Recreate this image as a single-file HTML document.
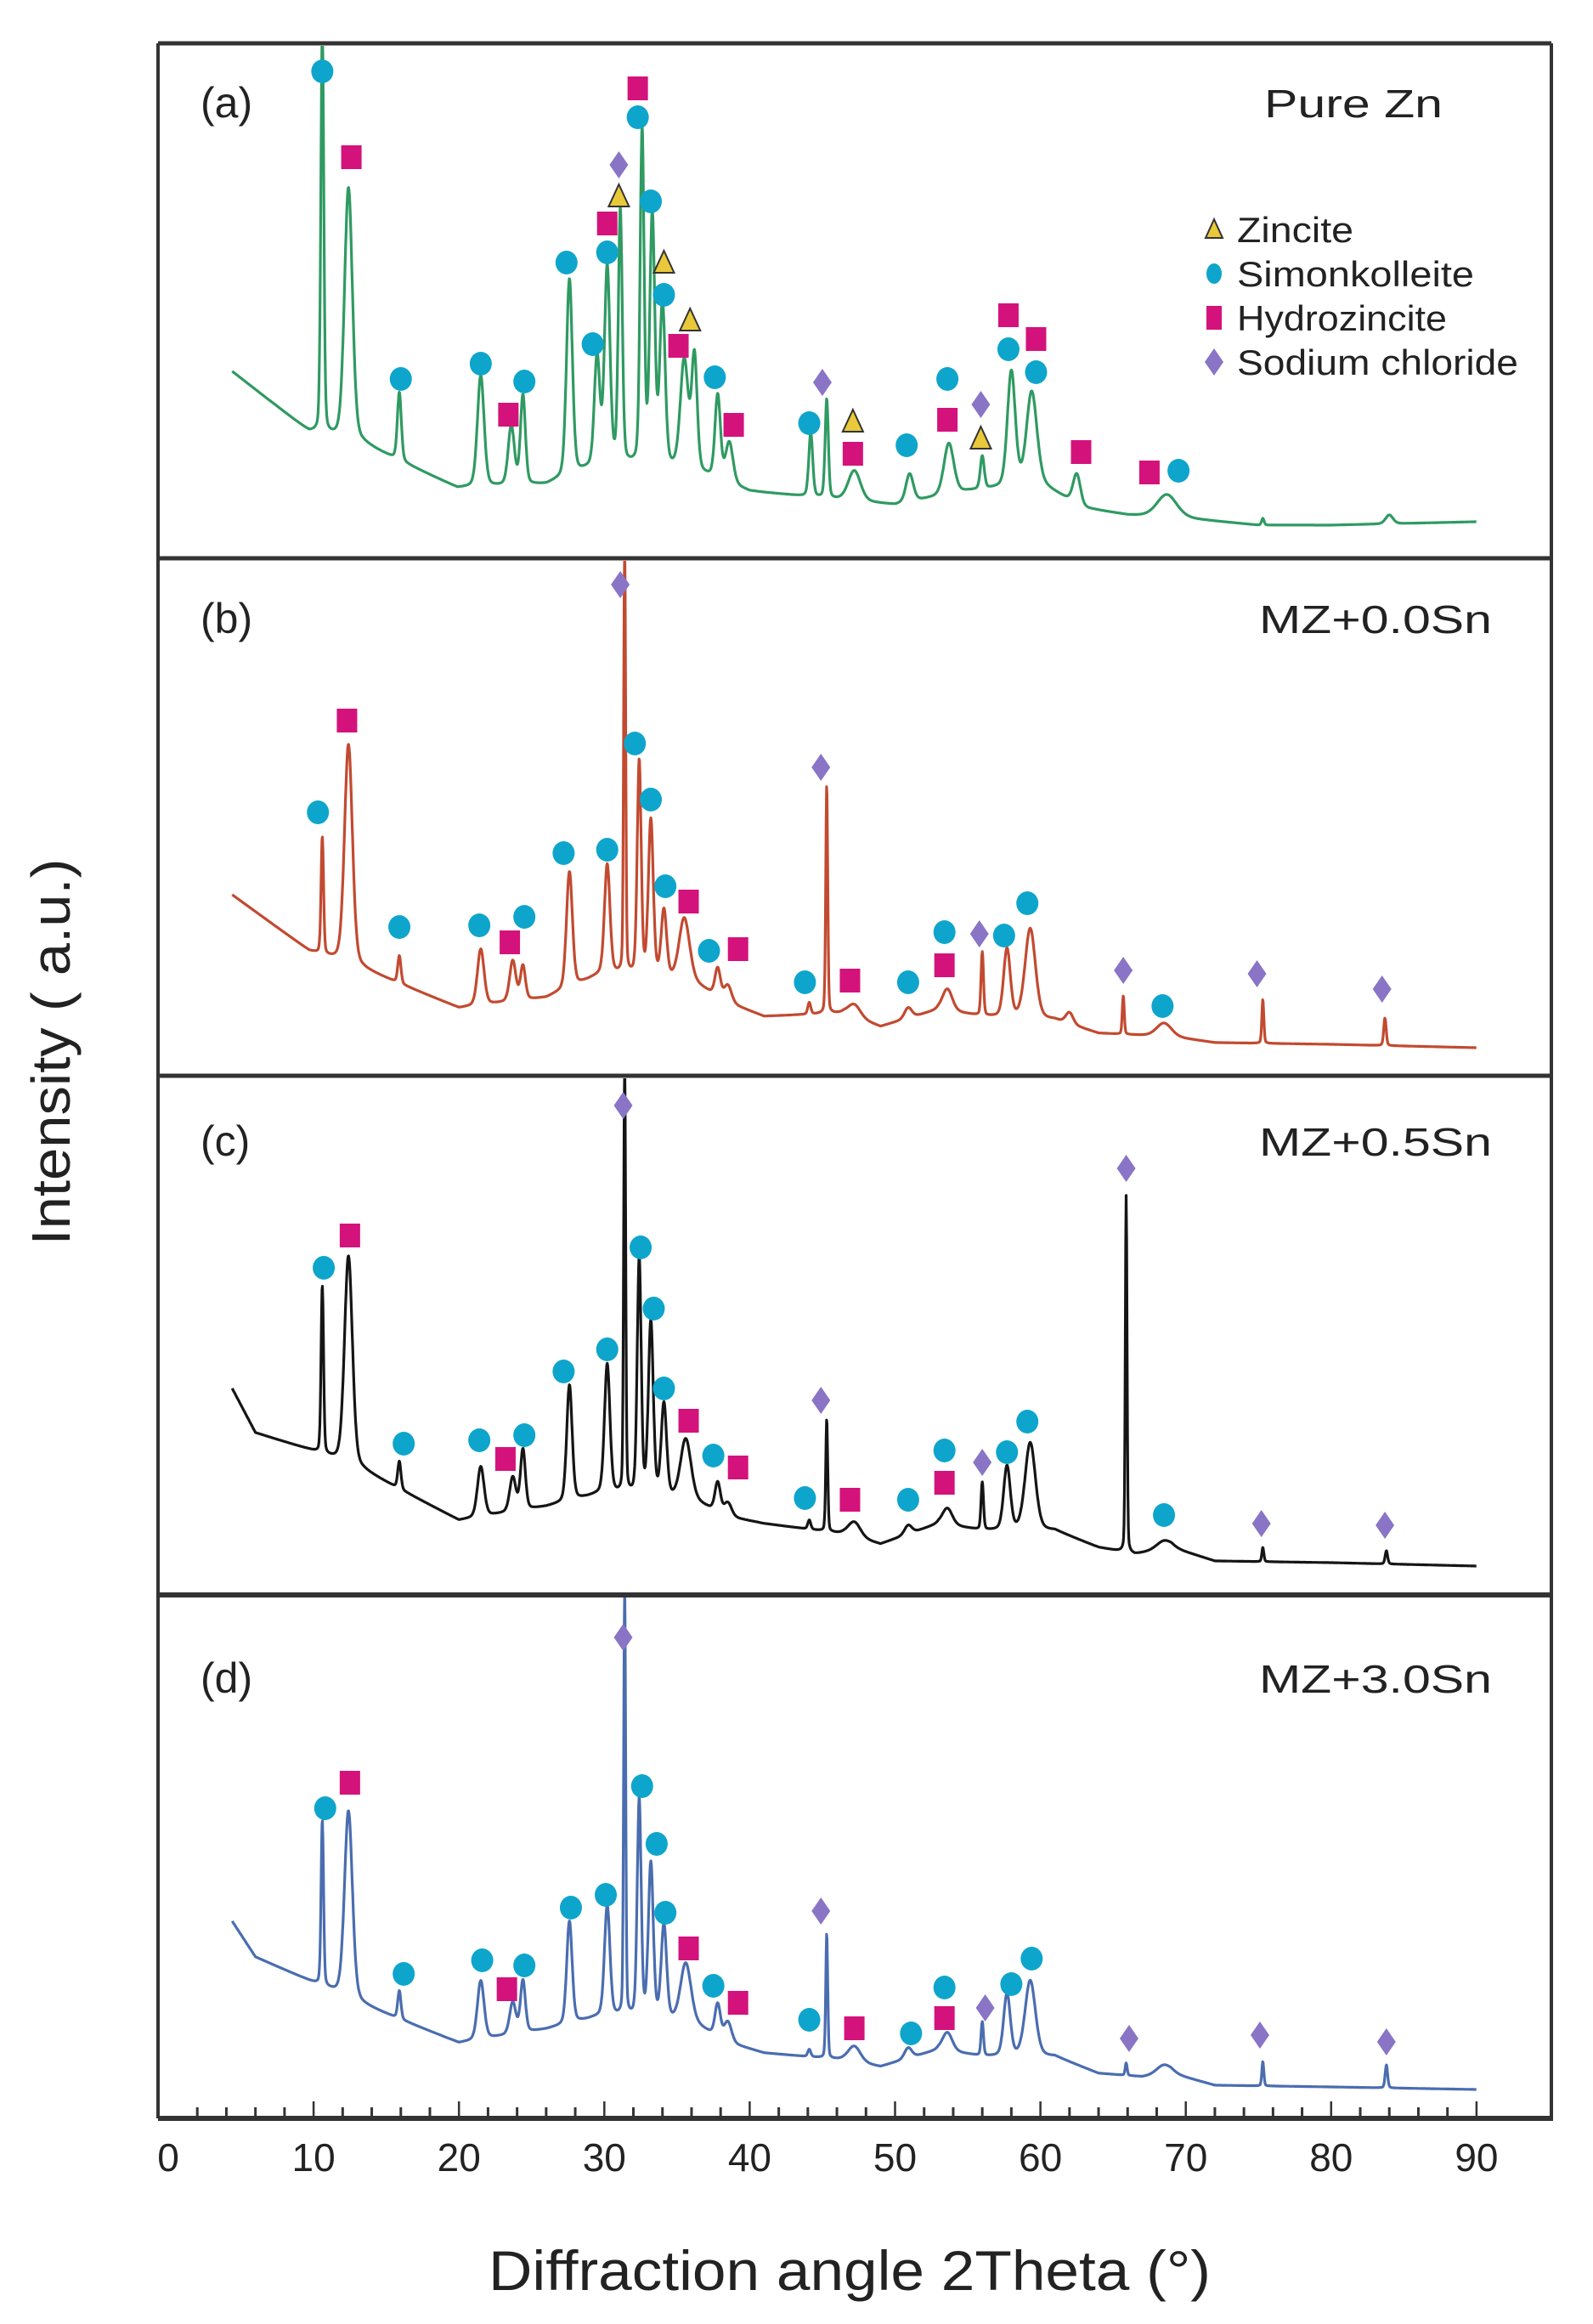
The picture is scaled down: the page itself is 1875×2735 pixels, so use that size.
<!DOCTYPE html>
<html><head><meta charset="utf-8"><title>XRD patterns</title>
<style>html,body{margin:0;padding:0;background:#fff}svg{display:block}</style></head>
<body>
<svg id="chart" xmlns="http://www.w3.org/2000/svg" width="1875" height="2735" viewBox="0 0 1875 2735" font-family="'Liberation Sans', sans-serif">
<rect x="0" y="0" width="1875" height="2735" fill="#fff"/>
<g id="panels"></g>
<g id="frame" stroke="#333" fill="none">
  <line x1="186" y1="51" x2="1826" y2="51" stroke-width="5"/>
  <line x1="186" y1="51" x2="186" y2="2493" stroke-width="4"/>
  <line x1="1826" y1="51" x2="1826" y2="2493" stroke-width="4"/>
  <line x1="186" y1="657" x2="1826" y2="657" stroke-width="5"/>
  <line x1="186" y1="1266" x2="1826" y2="1266" stroke-width="5"/>
  <line x1="186" y1="1877" x2="1826" y2="1877" stroke-width="6"/>
  <line x1="186" y1="2493" x2="1828" y2="2493" stroke-width="6"/>
</g>
<g id="ticks"></g>
<text x="1000" y="2695" font-size="66" text-anchor="middle" textLength="850" lengthAdjust="spacingAndGlyphs" fill="#222">Diffraction angle 2Theta (°)</text>
<text transform="translate(82,1238) rotate(-90)" font-size="64" text-anchor="middle" textLength="455" lengthAdjust="spacingAndGlyphs" fill="#222">Intensity ( a.u.)</text>
<g id="legend"></g>
</svg>
<script>
// ---------- x-axis ----------
const xTickLabels = ["0","10","20","30","40","50","60","70","80","90"];
const xTickValues = [0,10,20,30,40,50,60,70,80,90];

// ---------- panel (a) Pure Zn ----------
const baseAngA = [4.4,9.7,13.4,19.9,26,30,36,40,45,50,55,60,63,66,70,75,80,90];
const baseHA   = [219,148,134,82,86,110,102,78,70,62,78,86,58,50,46,38,38,42];
const posA = [10.6,12.4,15.9,21.5,23.6,24.4,27.6,29.5,30.2,31.1,32.6,33.3,34.0,35.5,36.2,37.8,38.6,44.2,45.3,47.2,51.0,53.7,56.0,58.0,59.4,62.5,68.7,75.3,84.0];
const topA = [620,435,194,214,154,190,327,234,339,407,500,399,295,230,234,190,134,146,186,102,98,134,118,218,194,98,74,46,50];
const widA = [0.12,0.32,0.16,0.27,0.25,0.2,0.24,0.22,0.22,0.16,0.16,0.2,0.22,0.32,0.22,0.22,0.3,0.16,0.13,0.5,0.3,0.4,0.16,0.32,0.42,0.3,0.8,0.1,0.3];
const mkAngA = [10.6,12.6,16.0,21.5,23.4,24.5,27.4,29.2,30.2,30.2,31.0,31.0,32.3,32.3,33.2,34.1,34.1,35.9,35.1,37.6,38.9,44.1,45.0,47.1,47.1,50.8,53.6,53.6,55.9,55.9,57.8,57.8,59.7,59.7,62.8,67.5,69.5];
const mkHA   = [572,471,210,228,168,207,347,251,359,393,425,462,552,518,419,347,309,279,249,212,156,158,206,160,122,132,162,210,180,140,285,245,257,218,124,100,102];
const mkTypeA = ["c","s","c","c","s","c","c","c","c","s","t","d","s","c","c","t","c","t","s","c","s","c","d","t","s","c","s","c","d","t","s","c","s","c","s","s","c"];

// ---------- panel (b) MZ+0.0Sn ----------
const baseAngB = [4.4,9.7,13.4,20,26,30,36,38.5,41,46.5,49,53,56,61,64,69,72,80,90];
const baseHB   = [212,146,125,79,91,120,110,85,69,73,57,77,69,65,49,45,38,36,32];
const posB = [10.6,12.4,15.9,21.5,23.7,24.4,27.6,30.2,31.4,32.4,33.2,34.1,35.5,37.8,38.5,44.1,45.3,47.2,50.9,53.6,56.0,57.7,59.3,62.0,65.7,68.5,75.3,83.7];
const topB = [279,389,140,148,134,128,239,247,620,368,298,192,184,125,105,85,342,83,79,101,144,148,172,73,93,61,89,67];
const widB = [0.1,0.32,0.13,0.27,0.25,0.2,0.24,0.22,0.08,0.16,0.2,0.22,0.42,0.22,0.3,0.12,0.08,0.5,0.3,0.4,0.1,0.27,0.42,0.3,0.08,0.6,0.08,0.1];
const mkAngB = [31.1,12.3,10.3,32.1,33.2,27.2,30.2,34.2,35.8,15.9,21.4,23.5,24.5,37.2,39.2,44.9,43.8,46.9,50.9,53.4,53.4,55.8,57.5,59.1,65.7,68.4,74.9,83.5];
const mkHB   = [577,417,309,390,324,261,265,222,204,174,176,156,186,146,148,362,109,111,109,129,168,166,164,202,123,81,119,101];
const mkTypeB = ["d","s","c","c","c","c","c","c","s","c","c","s","c","c","s","d","c","s","c","s","c","d","c","c","d","c","d","d"];

// ---------- panel (c) MZ+0.5Sn ----------
const baseAngC = [4.4,6,9.7,13.4,20,26,30,36,38.5,41,46.5,49,53,56,61,64,66.5,69,72,80,90];
const baseHC   = [241,189,169,145,86,102,118,110,90,82,70,58,82,74,74,54,46,54,38,36,32];
const posC = [10.6,12.4,15.9,21.5,23.7,24.4,27.6,30.2,31.4,32.4,33.2,34.1,35.6,37.8,38.5,44.1,45.3,47.2,50.9,53.6,56.0,57.7,59.3,65.9,68.5,75.3,83.8];
const topC = [361,397,155,149,136,169,245,269,620,393,317,221,181,130,106,86,205,84,80,100,130,149,177,468,62,54,50];
const widC = [0.1,0.32,0.13,0.27,0.25,0.2,0.22,0.22,0.08,0.16,0.2,0.22,0.42,0.22,0.3,0.12,0.08,0.5,0.3,0.4,0.1,0.27,0.42,0.07,0.6,0.08,0.1];
const mkAngC = [31.3,12.5,10.7,32.5,33.4,27.2,30.2,34.1,35.8,16.2,21.4,23.2,24.5,37.5,39.2,44.9,43.8,46.9,50.9,53.4,53.4,56.0,57.7,59.1,65.9,68.5,75.2,83.7];
const mkHC   = [574,421,383,407,335,261,287,241,203,176,180,158,186,162,148,227,112,110,110,130,168,154,166,202,500,92,82,80];
const mkTypeC = ["d","s","c","c","c","c","c","c","s","c","c","s","c","c","s","d","c","s","c","s","c","d","c","c","d","c","d","d"];

// ---------- panel (d) MZ+3.0Sn ----------
const baseAngD = [4.4,6,9.7,13.4,20,26,30,36,38.5,41,46.5,49,53,56,61,64,67,69,72,80,90];
const baseHD   = [229,187,159,131,86,102,118,110,86,74,66,58,78,70,70,50,46,50,36,34,31];
const posD = [10.6,12.4,15.9,21.5,23.7,24.4,27.6,30.2,31.4,32.4,33.2,34.1,35.6,37.8,38.5,44.1,45.3,47.2,50.9,53.6,56.0,57.7,59.3,65.9,68.5,75.3,83.8];
const topD = [347,359,147,159,133,159,229,247,620,371,295,223,179,131,110,78,215,82,80,98,110,143,159,62,60,64,60];
const widD = [0.1,0.32,0.13,0.27,0.25,0.2,0.22,0.22,0.08,0.16,0.2,0.22,0.42,0.22,0.3,0.12,0.08,0.5,0.3,0.4,0.1,0.27,0.42,0.08,0.6,0.08,0.1];
const mkAngD = [31.3,12.5,10.8,32.6,33.6,27.7,30.1,34.2,35.8,16.2,21.6,23.3,24.5,37.5,39.2,44.9,44.1,47.2,51.1,53.4,53.4,56.2,58.0,59.4,66.1,75.1,83.8];
const mkHD   = [563,392,362,388,320,245,260,239,197,167,183,149,177,153,133,241,113,103,97,115,151,127,155,185,91,95,87];
const mkTypeD = ["d","s","c","c","c","c","c","c","s","c","c","s","c","c","s","d","c","s","c","s","c","d","c","c","d","d","d"];

// ---------- legend ----------
const legendLabels = ["Zincite","Simonkolleite","Hydrozincite","Sodium chloride"];
const legendTypes = ["t","c","s","d"];

// ---------- geometry ----------
const X0 = 198, PX_PER_DEG = 17.11;
function xScale(a){ return X0 + a*PX_PER_DEG; }
const NS = "http://www.w3.org/2000/svg";
const COLORS = {c:"#0ea5cc", s:"#d4127c", d:"#8a74c6", t:"#e9c93a"};
const panels = [
  {key:"a", top:54, bottom:656, color:"#2f9a62", label:"(a)", name:"Pure Zn", nameW:210, nameX:1698, labelY:138, nameY:138,
   bA:baseAngA, bH:baseHA, pos:posA, tops:topA, wid:widA, mA:mkAngA, mH:mkHA, mT:mkTypeA},
  {key:"b", top:660, bottom:1265, color:"#c24a30", label:"(b)", name:"MZ+0.0Sn", nameW:274, nameX:1756, labelY:745, nameY:745,
   bA:baseAngB, bH:baseHB, pos:posB, tops:topB, wid:widB, mA:mkAngB, mH:mkHB, mT:mkTypeB},
  {key:"c", top:1269, bottom:1875, color:"#151515", label:"(c)", name:"MZ+0.5Sn", nameW:274, nameX:1756, labelY:1360, nameY:1360,
   bA:baseAngC, bH:baseHC, pos:posC, tops:topC, wid:widC, mA:mkAngC, mH:mkHC, mT:mkTypeC},
  {key:"d", top:1880, bottom:2490, color:"#4a6db0", label:"(d)", name:"MZ+3.0Sn", nameW:274, nameX:1756, labelY:1992, nameY:1992,
   bA:baseAngD, bH:baseHD, pos:posD, tops:topD, wid:widD, mA:mkAngD, mH:mkHD, mT:mkTypeD}
];

function interp(xs, ys, x){
  if (x <= xs[0]) return ys[0];
  for (let i=1;i<xs.length;i++){
    if (x <= xs[i]){ const t=(x-xs[i-1])/(xs[i]-xs[i-1]); return ys[i-1]+t*(ys[i]-ys[i-1]); }
  }
  return ys[ys.length-1];
}
function shape(d, w){ const r=d/w; return 0.75*Math.exp(-0.693*r*r) + 0.25/(1+r*r); }

function marker(g, type, cx, cy){
  let el;
  if (type==="c"){ el=document.createElementNS(NS,"ellipse"); el.setAttribute("cx",cx); el.setAttribute("cy",cy); el.setAttribute("rx",13); el.setAttribute("ry",14); el.setAttribute("fill",COLORS.c); }
  else if (type==="s"){ el=document.createElementNS(NS,"rect"); el.setAttribute("x",cx-12); el.setAttribute("y",cy-14); el.setAttribute("width",24); el.setAttribute("height",28); el.setAttribute("fill",COLORS.s); }
  else if (type==="d"){ el=document.createElementNS(NS,"polygon"); el.setAttribute("points",`${cx},${cy-16} ${cx+11},${cy} ${cx},${cy+16} ${cx-11},${cy}`); el.setAttribute("fill",COLORS.d); }
  else { el=document.createElementNS(NS,"polygon"); el.setAttribute("points",`${cx},${cy-14} ${cx+12},${cy+12} ${cx-12},${cy+12}`); el.setAttribute("fill",COLORS.t); el.setAttribute("stroke","#333"); el.setAttribute("stroke-width","2"); }
  const nm = {c:"simonkolleite-marker", s:"hydrozincite-marker", d:"sodium-chloride-marker", t:"zincite-marker"}[type];
  
  
  g.appendChild(el);
  return el;
}

const svg = document.getElementById("chart");
const defs = document.createElementNS(NS,"defs");
svg.insertBefore(defs, svg.firstChild);
const panelsG = document.getElementById("panels");

panels.forEach(p=>{
  const g = document.createElementNS(NS,"g");
  
  
  panelsG.appendChild(g);

  const cp = document.createElementNS(NS,"clipPath");
  cp.setAttribute("id","clip-"+p.key);
  const cr = document.createElementNS(NS,"rect");
  cr.setAttribute("x",188); cr.setAttribute("y",p.top); cr.setAttribute("width",1636); cr.setAttribute("height",p.bottom-p.top+10);
  cp.appendChild(cr); defs.appendChild(cp);

  const amps = p.pos.map((a,i)=> p.tops[i] - interp(p.bA,p.bH,a));
  let d = "";
  for (let a=4.4; a<=90.0001; a+=0.03){
    let h = interp(p.bA,p.bH,a);
    for (let i=0;i<p.pos.length;i++){
      const dd = a-p.pos[i];
      if (Math.abs(dd) < p.wid[i]*30) h += amps[i]*shape(dd,p.wid[i]);
    }
    d += (d?"L":"M") + xScale(a).toFixed(1) + "," + (p.bottom - h).toFixed(1);
  }
  const path = document.createElementNS(NS,"path");
  path.setAttribute("d", d);
  path.setAttribute("fill","none");
  path.setAttribute("stroke", p.color);
  path.setAttribute("stroke-width","3.2");
  path.setAttribute("stroke-linejoin","round");
  path.setAttribute("clip-path","url(#clip-"+p.key+")");
  
  
  g.appendChild(path);

  const mg = document.createElementNS(NS,"g");
  
  
  g.appendChild(mg);
  p.mA.forEach((a,i)=> marker(mg, p.mT[i], xScale(a), p.bottom - p.mH[i]));

  const lab = document.createElementNS(NS,"text");
  lab.setAttribute("x",236); lab.setAttribute("y",p.labelY);
  lab.setAttribute("font-size","50"); lab.setAttribute("fill","#222");
  lab.textContent = p.label;
  
  
  g.appendChild(lab);

  const nm = document.createElementNS(NS,"text");
  nm.setAttribute("x",p.nameX); nm.setAttribute("y",p.nameY);
  nm.setAttribute("text-anchor","end");
  nm.setAttribute("font-size","46"); nm.setAttribute("fill","#222");
  nm.setAttribute("textLength",p.nameW); nm.setAttribute("lengthAdjust","spacingAndGlyphs");
  nm.textContent = p.name;
  
  
  g.appendChild(nm);
});

// ticks
const tg = document.getElementById("ticks");
for (let v=2; v<=90; v+=2){
  const major = v % 10 === 0;
  const ln = document.createElementNS(NS,"line");
  ln.setAttribute("x1",xScale(v)); ln.setAttribute("x2",xScale(v));
  ln.setAttribute("y1",2493); ln.setAttribute("y2",2493-(major?20:13));
  ln.setAttribute("stroke","#333"); ln.setAttribute("stroke-width", major?2.5:3);
  
  
  tg.appendChild(ln);
}
xTickValues.forEach((v,i)=>{
  const t = document.createElementNS(NS,"text");
  t.setAttribute("x",xScale(v)); t.setAttribute("y",2555);
  t.setAttribute("text-anchor","middle"); t.setAttribute("font-size","46"); t.setAttribute("fill","#222");
  t.textContent = xTickLabels[i];
  
  
  tg.appendChild(t);
});

// legend
const lg = document.getElementById("legend");
const legendW = [137,279,247,331];
legendLabels.forEach((lbl,i)=>{
  const cy = 270 + i*52;
  const m = marker(lg, legendTypes[i], 1429, cy);
  if (legendTypes[i]==="c"){ m.setAttribute("rx",9); m.setAttribute("ry",12); }
  if (legendTypes[i]==="s"){ m.setAttribute("x",1420); m.setAttribute("y",cy-14); m.setAttribute("width",18); }
  if (legendTypes[i]==="t"){ m.setAttribute("points",`1429,${cy-12} 1439,${cy+10} 1419,${cy+10}`); }
  const t = document.createElementNS(NS,"text");
  t.setAttribute("x",1456); t.setAttribute("y",cy+15);
  t.setAttribute("font-size","42"); t.setAttribute("fill","#222");
  t.setAttribute("textLength",legendW[i]); t.setAttribute("lengthAdjust","spacingAndGlyphs");
  t.textContent = lbl;
  
  
  lg.appendChild(t);
});
</script>
</body></html>
